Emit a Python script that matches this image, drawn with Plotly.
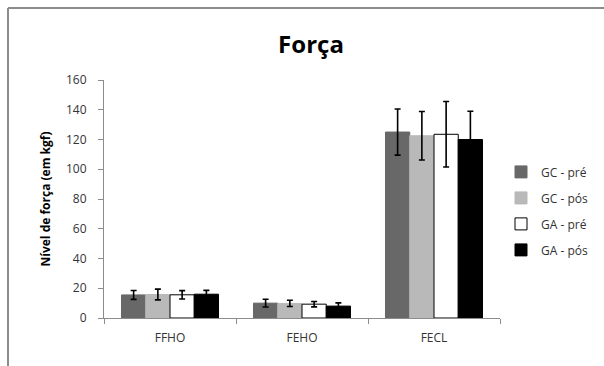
import plotly.graph_objects as go

categories = ["FFHO", "FEHO", "FECL"]
series_names = ["GC - pré", "GC - pós", "GA - pré", "GA - pós"]
gc_pre = [15.5, 10.0, 125.0]
gc_pre_err = [3.0, 2.6, 15.5]
gc_pos = [15.8, 9.8, 122.5]
gc_pos_err = [3.6, 2.1, 16.3]
ga_pre = [15.6, 9.3, 123.5]
ga_pre_err = [2.8, 1.8, 22.0]
ga_pos = [16.0, 8.0, 120.0]
ga_pos_err = [2.6, 2.2, 19.0]
y_ticks = [0, 20, 40, 60, 80, 100, 120, 140, 160]

values = [gc_pre, gc_pos, ga_pre, ga_pos]
errors = [gc_pre_err, gc_pos_err, ga_pre_err, ga_pos_err]
colors = ["#686868", "#b9b9b9", "#ffffff", "#000000"]
line_colors = ["#686868", "#b9b9b9", "#000000", "#000000"]

FONT = "Open Sans"
fig = go.Figure()
for i, name in enumerate(series_names):
    fig.add_trace(go.Bar(
        x=categories, y=values[i], name=name,
        marker=dict(color=colors[i], line=dict(color=line_colors[i], width=1)),
        error_y=dict(type="data", array=errors[i], color="#000000", thickness=1.6, width=3),
        legendgroup=name,
    ))

grey = "#8c8c8c"
fig.update_layout(
    width=604, height=366, autosize=False,
    paper_bgcolor="white", plot_bgcolor="white",
    margin=dict(l=104, r=104, t=80, b=48, autoexpand=False),
    barmode="group", bargap=0.265, bargroupgap=0,
    title=dict(text="<b>Força</b>", x=311 / 604, xanchor="center", y=1 - 45 / 366, yanchor="middle",
               font=dict(family=FONT, size=24, color="#000000")),
    font=dict(family=FONT, size=12, color="#333333"),
    showlegend=True,
    legend=dict(xref="container", x=501 / 604, xanchor="left", y=0.45, yanchor="middle",
                font=dict(family=FONT, size=12, color="#333333"),
                tracegroupgap=7, bgcolor="rgba(0,0,0,0)"),
    xaxis=dict(showline=True, linecolor=grey, linewidth=1, ticks="outside", tickson="boundaries",
               ticklen=5, tickcolor=grey, showgrid=False, ticklabelstandoff=9,
               tickfont=dict(family=FONT, size=12, color="#333333")),
    yaxis=dict(range=[0, 160], tickvals=y_ticks, showline=True, linecolor=grey, linewidth=1,
               ticks="outside", ticklen=5, tickcolor=grey, showgrid=False, zeroline=False,
               ticklabelstandoff=9,
               tickfont=dict(family=FONT, size=12, color="#333333"),
               title=dict(text="<b>Nível de força (em kgf)</b>", standoff=12,
                          font=dict(family=FONT, size=12, color="#000000"))),
)

# outer frame (top and left edges, as in the reference)
fig.add_shape(type="line", xref="paper", yref="paper",
              x0=(8 - 104) / 396, x1=(604 - 104) / 396, y0=(318 - 8) / 238, y1=(318 - 8) / 238,
              line=dict(color=grey, width=2))
fig.add_shape(type="line", xref="paper", yref="paper",
              x0=(8 - 104) / 396, x1=(8 - 104) / 396, y0=(318 - 8) / 238, y1=(318 - 366) / 238,
              line=dict(color=grey, width=2))

fig.write_html("out.html", config={"displayModeBar": False},
               post_script="document.body.style.margin='0';document.body.style.overflow='hidden';")
